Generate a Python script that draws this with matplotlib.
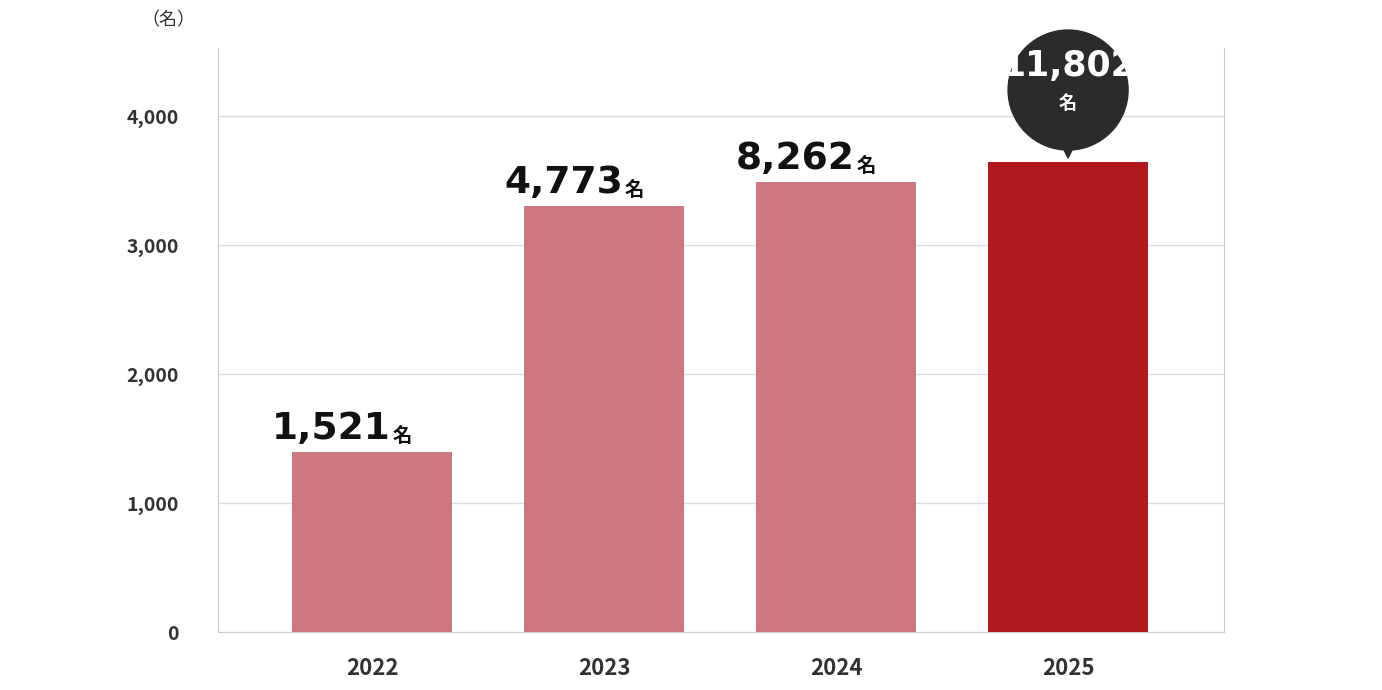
import matplotlib
matplotlib.use("Agg")
import matplotlib.pyplot as plt
from matplotlib.patches import Circle, Polygon
from matplotlib.transforms import IdentityTransform

years = ["2022", "2023", "2024", "2025"]
bar_heights = [1395, 3302, 3488, 3643]
labels = ["1,521", "4,773", "8,262", "11,802"]
yticks = [0, 1000, 2000, 3000, 4000]
ytick_labels = ["0", "1,000", "2,000", "3,000", "4,000"]
colors = ["#cd7880", "#cd7880", "#cd7880", "#b01a1e"]

plt.rcParams['font.family'] = ['Noto Sans CJK JP', 'DejaVu Sans']
fig = plt.figure(figsize=(13.82, 6.9), dpi=100)
ax = fig.add_axes([218/1382, 58/690, 1006/1382, 584/690])
x = list(range(len(years)))
ax.bar(x, bar_heights, width=0.69, color=colors, zorder=3)
ax.set_xlim(-0.664, 3.672)
ax.set_ylim(0, 4527)
ax.set_yticks(yticks)
ax.set_yticklabels(ytick_labels, fontsize=14, fontweight='bold', color='#333333')
ax.set_xticks(x)
ax.set_xticklabels(years, fontsize=16, fontweight='bold', color='#333333')
ax.tick_params(length=0, pad=28, axis='y')
ax.tick_params(length=0, pad=18, axis='x')
ax.grid(axis='y', color='#dddddd', lw=1, zorder=0)
for s in ['top']:
    ax.spines[s].set_visible(False)
for s in ['left', 'right', 'bottom']:
    ax.spines[s].set_color('#cccccc')
fig.text(168/1382, 1-20/690, "（名）", fontsize=13, ha='center', va='center', color='#333333')

numfam = ['Liberation Sans Narrow', 'DejaVu Sans']
for i in range(3):
    ax.text(i + 0.08, bar_heights[i] + 40, labels[i], ha='right', va='bottom',
            fontsize=27, fontweight='bold', family=numfam, color='#111111')
    ax.text(i + 0.09, bar_heights[i] + 50, "名", ha='left', va='bottom',
            fontsize=14, fontweight='bold', color='#111111')

fig.canvas.draw()
px, py = ax.transData.transform((3, bar_heights[3]))
cx, cy = px, py + 72
fig.patches.append(Circle((cx, cy), 60, transform=IdentityTransform(), color='#2b2b2b', zorder=5))
fig.patches.append(Polygon([(px - 9, cy - 50), (px + 9, cy - 50), (px, py + 4)], closed=True,
                           transform=IdentityTransform(), color='#2b2b2b', zorder=5))
fx, fy = cx / 1382, cy / 690
fig.text(fx, fy + 0.01, labels[3], ha='center', va='bottom', fontsize=25, fontweight='bold',
         family=numfam, color='white', zorder=6)
fig.text(fx, fy - 0.005, "名", ha='center', va='top', fontsize=13, fontweight='bold',
         color='white', zorder=6)
fig.savefig("out.png", dpi=100)
